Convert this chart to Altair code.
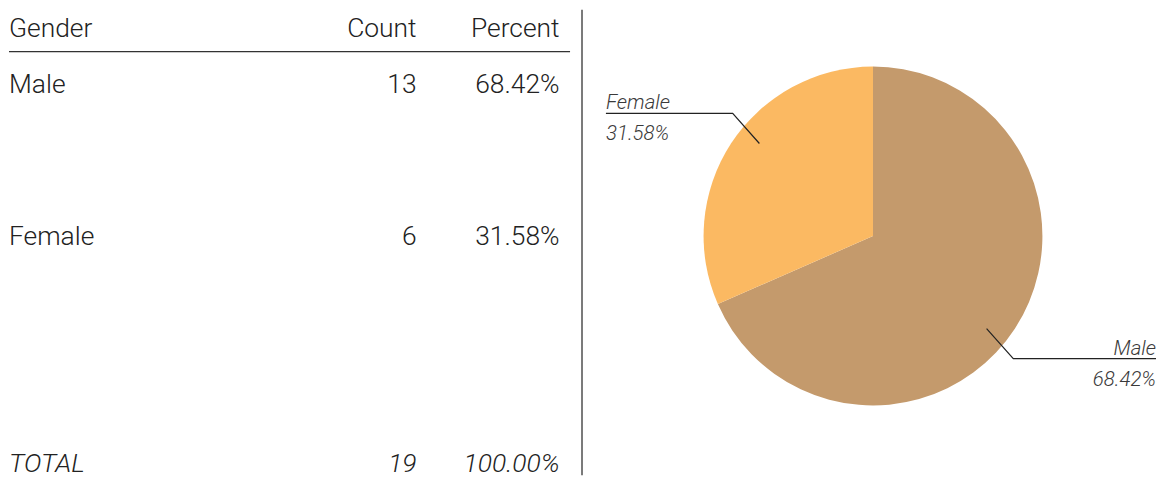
import math
import altair as alt
import pandas as pd

# ---- data ----
genders = ["Male", "Female"]
counts = [13, 6]
percents = [68.42, 31.58]
headers = ["Gender", "Count", "Percent"]
total_label = "TOTAL"
total_count = 19
total_percent = 100.00
slice_colors = ["#C49A6C", "#FBB962"]

FONT = "Roboto"
TEXT = "#222222"
LABEL = "#3a3a3a"

LW, LH = 576, 468
RW, RH = 575, 468

rows = pd.DataFrame({
    "gender": genders,
    "count": [str(c) for c in counts],
    "pct": [f"{p:.2f}%" for p in percents],
    "idx": list(range(len(genders))),
})
total_df = pd.DataFrame({"label": [total_label], "count": [str(total_count)],
                         "pct": [f"{total_percent:.2f}%"]})
hdr_df = pd.DataFrame({"h": headers})


def txt(data, field, x, y, align, italic=False, size=26.5, color=TEXT):
    return alt.Chart(data).mark_text(
        font=FONT, fontSize=size, fontWeight=300,
        fontStyle="italic" if italic else "normal",
        color=color, align=align, baseline="alphabetic",
    ).encode(text=f"{field}:N", x=alt.value(x), y=y)


row_y = alt.Y("idx:Q", scale=alt.Scale(domain=[0, 1], range=[83.5, 236.5]), axis=None)

col_x = {"Gender": 0, "Count": 409, "Percent": 552.5}
hdr_y = alt.value(27.5)
tot_y = alt.value(463.5)

layers = []
for h, al in zip(headers, ["left", "right", "right"]):
    layers.append(txt(hdr_df, "h", col_x[h], hdr_y, al).transform_filter(alt.datum.h == h))
layers.append(txt(rows, "gender", col_x["Gender"], row_y, "left"))
layers.append(txt(rows, "count", col_x["Count"], row_y, "right"))
layers.append(txt(rows, "pct", col_x["Percent"], row_y, "right"))
layers.append(txt(total_df, "label", col_x["Gender"], tot_y, "left", italic=True))
layers.append(txt(total_df, "count", col_x["Count"], tot_y, "right", italic=True))
layers.append(txt(total_df, "pct", col_x["Percent"], tot_y, "right", italic=True))

one = pd.DataFrame({"a": [0]})
header_rule = alt.Chart(one).mark_rule(color="#333333", strokeWidth=1.3).encode(
    x=alt.value(0), x2=alt.value(563), y=alt.value(42))
divider = alt.Chart(one).mark_rule(color="#333333", strokeWidth=1.3).encode(
    x=alt.value(575), y=alt.value(0), y2=alt.value(467))

left = alt.layer(header_rule, divider, *layers).properties(width=LW, height=LH)

# ---- pie ----
CX, CY, R = 291, 227, 170
total = sum(counts)
pie_df = pd.DataFrame({"gender": genders, "count": counts, "order": list(range(len(genders))),
                       "pct": [f"{p:.2f}%" for p in percents]})

line_rows, lab_rows = [], []
start = 0.0
for g, c, p in zip(genders, counts, percents):
    span = 360.0 * c / total
    mid = start + span / 2
    start += span
    a1 = math.radians(mid + 6)
    a2 = math.radians(mid + 8)
    x1, y1 = CX + 147 * math.sin(a1), CY - 147 * math.cos(a1)
    x2, y2 = CX + 187 * math.sin(a2), CY - 187 * math.cos(a2)
    right_side = math.sin(math.radians(mid)) > 0
    xe = RW if right_side else 23
    for k, (xx, yy) in enumerate([(x1, y1), (x2, y2), (xe, y2)]):
        line_rows.append({"gender": g, "k": k, "x": xx, "y": yy})
    side = "right" if right_side else "left"
    lab_rows.append({"gender": g, "pct": f"{p:.2f}%", "x": xe, "yn": y2 - 4, "yp": y2 + 27, "side": side})

lines_df = pd.DataFrame(line_rows)
labs_df = pd.DataFrame(lab_rows)

xs = alt.Scale(domain=[0, RW], nice=False, zero=False)
ys = alt.Scale(domain=[0, RH], nice=False, zero=False, reverse=True)

arc = alt.Chart(pie_df).mark_arc(outerRadius=R).encode(
    theta=alt.Theta("count:Q", stack=True),
    order=alt.Order("order:Q"),
    color=alt.Color("gender:N", scale=alt.Scale(domain=genders, range=slice_colors), legend=None),
    x=alt.value(CX), y=alt.value(CY),
)

leader = alt.Chart(lines_df).mark_line(color="#222222", strokeWidth=1.2).encode(
    x=alt.X("x:Q", scale=xs, axis=None),
    y=alt.Y("y:Q", scale=ys, axis=None),
    detail="gender:N",
    order="k:Q",
)

pie_layers = [arc, leader]
for side in ["left", "right"]:
    sub = alt.Chart(labs_df).transform_filter(alt.datum.side == side)
    for fld, yf in [("gender", "yn"), ("pct", "yp")]:
        pie_layers.append(sub.mark_text(
            font=FONT, fontSize=20.5, fontWeight=300, fontStyle="italic",
            color=LABEL, align=side, baseline="alphabetic",
        ).encode(
            text=f"{fld}:N",
            x=alt.X("x:Q", scale=xs, axis=None),
            y=alt.Y(f"{yf}:Q", scale=ys, axis=None),
        ))

right = alt.layer(*pie_layers).properties(width=RW, height=RH)

chart = alt.hconcat(left, right, spacing=0).properties(
    padding={"left": 0, "top": 0, "right": 0, "bottom": 0}
).configure_view(stroke=None)

chart.save("out.html", embed_options={"renderer": "svg", "actions": False})
